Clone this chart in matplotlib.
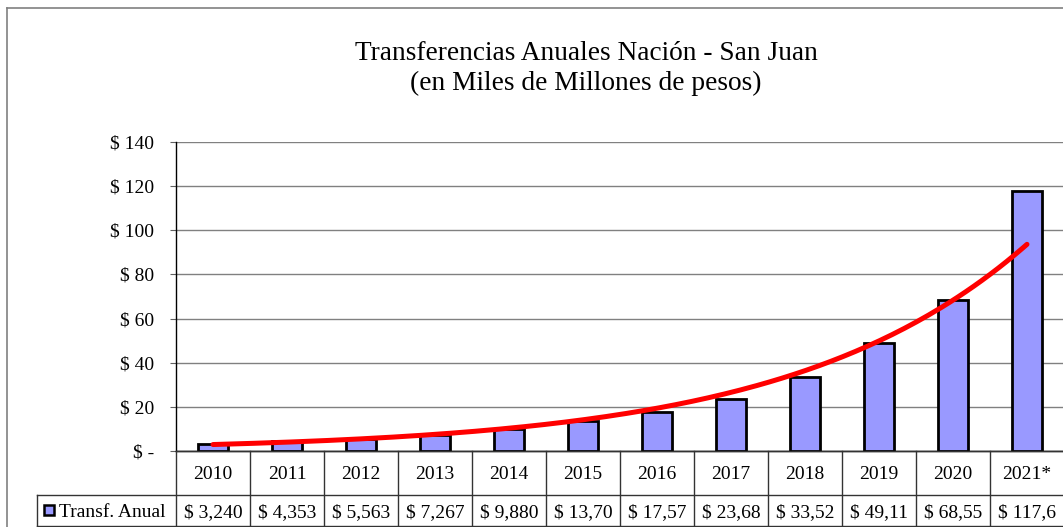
import numpy as np
import matplotlib
matplotlib.use("Agg")
import matplotlib.pyplot as plt
from matplotlib.lines import Line2D
from matplotlib.patches import Rectangle

years = ["2010", "2011", "2012", "2013", "2014", "2015", "2016", "2017", "2018", "2019", "2020", "2021*"]
values = [3.240, 4.353, 5.563, 7.267, 9.880, 13.70, 17.57, 23.68, 33.52, 49.11, 68.55, 117.6]
value_labels = ["$ 3,240", "$ 4,353", "$ 5,563", "$ 7,267", "$ 9,880", "$ 13,70", "$ 17,57",
                "$ 23,68", "$ 33,52", "$ 49,11", "$ 68,55", "$ 117,6"]
yticks = [0, 20, 40, 60, 80, 100, 120, 140]
ytick_labels = ["$ -", "$ 20", "$ 40", "$ 60", "$ 80", "$ 100", "$ 120", "$ 140"]
series_name = "Transf. Anual"
title_line1 = "Transferencias Anuales Nación - San Juan"
title_line2 = "(en Miles de Millones de pesos)"

plt.rcParams['font.family'] = ['Liberation Serif', 'DejaVu Serif']

W, H = 1063, 527
fig = plt.figure(figsize=(W / 100, H / 100), dpi=100)

def fx(px):
    return px / W

def fy(py):
    return 1 - py / H

ax_left, ax_right, ax_top, ax_bottom = 176, 1064, 142, 451
ax = fig.add_axes([fx(ax_left), fy(ax_bottom), fx(ax_right - ax_left), (ax_bottom - ax_top) / H])

x = np.arange(len(years))
ax.bar(x, values, width=0.4, color="#9999FF", edgecolor="black", linewidth=2.0, zorder=3)

# exponential trendline (least squares on log values, like Excel)
b, a = np.polyfit(x, np.log(values), 1)
xt = np.linspace(0, len(years) - 1, 200)
ax.plot(xt, np.exp(a + b * xt), color="#FF0000", linewidth=3.6, zorder=4, solid_capstyle="round")

ax.set_xlim(-0.5, len(years) - 0.5)
ax.set_ylim(0, 140)
ax.set_yticks(yticks)
ax.set_yticklabels(ytick_labels, fontsize=14)
ax.set_xticks([])
ax.yaxis.grid(True, color="#808080", linewidth=1.0, zorder=0)
ax.tick_params(axis="y", direction="out", length=4.5, width=0.8, pad=11, color="#606060")
for s in ["top", "right"]:
    ax.spines[s].set_visible(False)
ax.spines["left"].set_linewidth(1.0)
ax.spines["bottom"].set_linewidth(1.0)
ax.set_axisbelow(True)

# data table
row1_bottom, row2_bottom = 495, 526
cell_w = (ax_right - ax_left) / len(years)
line_kw = dict(color="#333333", linewidth=1.0, transform=fig.transFigure)
lines = []
lines.append(Line2D([fx(ax_left), fx(ax_right)], [fy(ax_bottom), fy(ax_bottom)], **line_kw))
lines.append(Line2D([fx(37), fx(ax_right)], [fy(row1_bottom), fy(row1_bottom)], **line_kw))
lines.append(Line2D([fx(37), fx(ax_right)], [fy(row2_bottom), fy(row2_bottom)], **line_kw))
lines.append(Line2D([fx(37), fx(37)], [fy(row1_bottom), fy(row2_bottom)], **line_kw))
for k in range(len(years) + 1):
    xp = ax_left + k * cell_w
    lines.append(Line2D([fx(xp), fx(xp)], [fy(ax_bottom), fy(row2_bottom)], **line_kw))
for ln in lines:
    fig.add_artist(ln)

for i, (yr, vl) in enumerate(zip(years, value_labels)):
    cx = ax_left + (i + 0.5) * cell_w
    fig.text(fx(cx), fy(479), yr, ha="center", va="baseline", fontsize=14)
    fig.text(fx(cx), fy(517), vl, ha="center", va="baseline", fontsize=14)

# legend key in table
fig.add_artist(Rectangle((fx(44), fy(515)), fx(10), 10 / H, facecolor="#9999FF",
                         edgecolor="black", linewidth=1.8, transform=fig.transFigure))
fig.text(fx(59), fy(517), series_name, ha="left", va="baseline", fontsize=14)

# title
fig.text(fx(586), fy(60), title_line1, ha="center", va="baseline", fontsize=19.7)
fig.text(fx(586), fy(90), title_line2, ha="center", va="baseline", fontsize=19.7)

# outer chart frame
fig.add_artist(Line2D([fx(7), fx(7)], [fy(8), 0], color="#808080", linewidth=1.2, transform=fig.transFigure))
fig.add_artist(Line2D([fx(7), 1], [fy(8), fy(8)], color="#808080", linewidth=1.2, transform=fig.transFigure))

fig.savefig("out.png", dpi=100)
